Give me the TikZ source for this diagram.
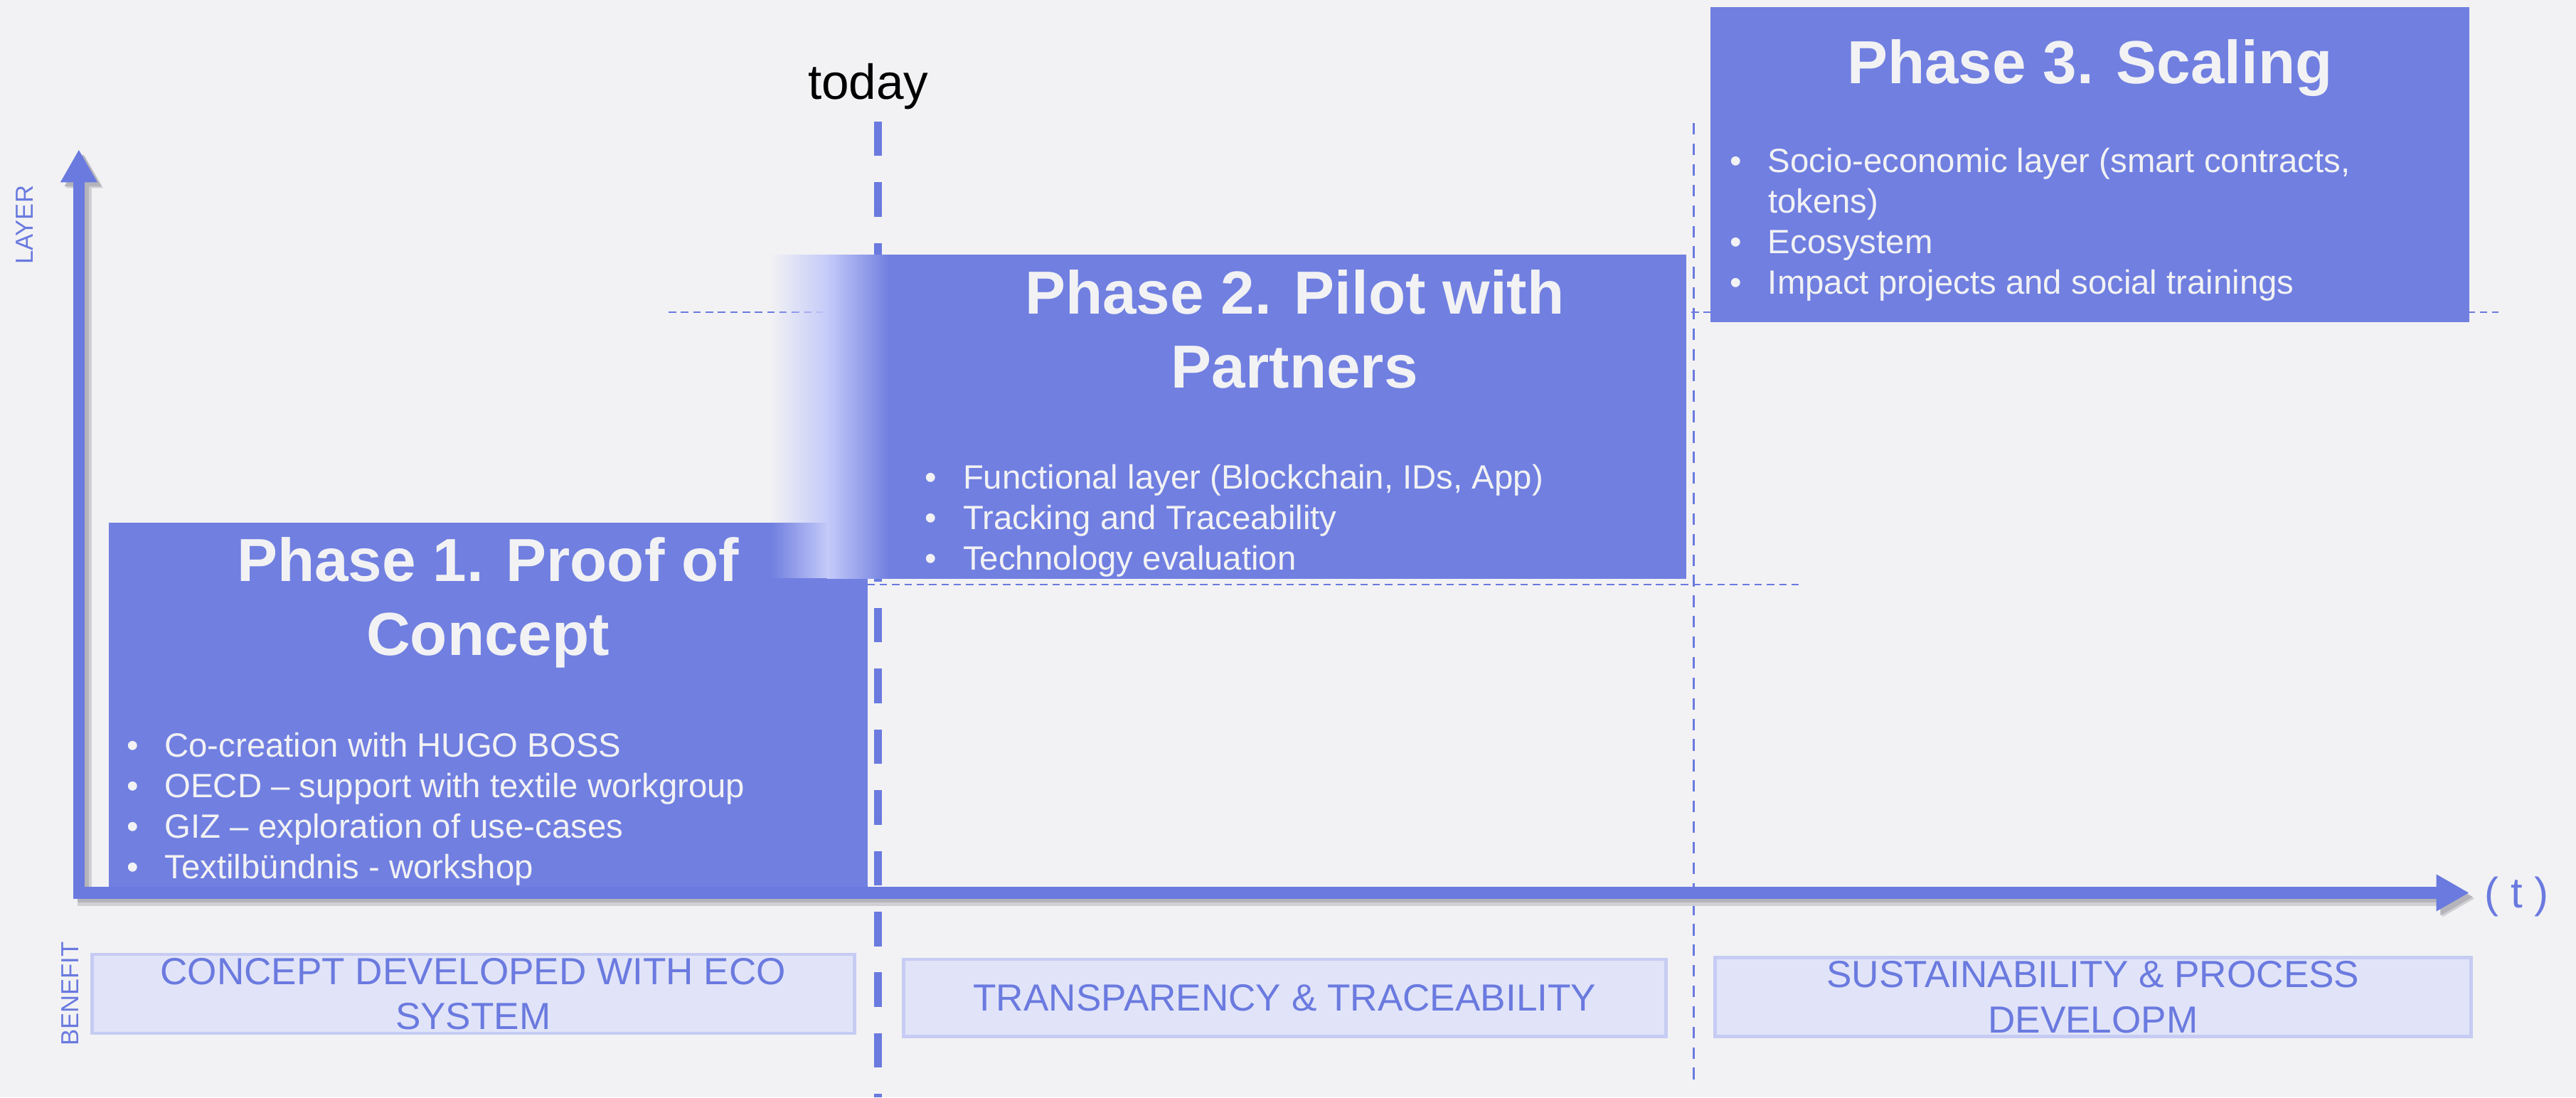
\documentclass[tikz,border=0pt]{standalone}
\usepackage{fontspec}
\setmainfont{Liberation Sans}
\usetikzlibrary{arrows.meta, positioning, fadings}
\definecolor{PageGrey}{HTML}{F2F2F4}
\definecolor{PhaseBlue}{HTML}{707FE0}
\definecolor{AxisBlue}{HTML}{6A7ADF}
\definecolor{LightLav}{HTML}{C5CBF9}
\definecolor{BenefitFill}{HTML}{E1E4F8}
\definecolor{BenefitLine}{HTML}{C6CCF3}
\definecolor{ShadowGrey}{HTML}{B4B4BA}
\newcommand{\phbullet}[1]{\makebox[23pt][l]{\textbullet}#1}

\tikzset{
  phasebox/.style={fill=PhaseBlue, inner sep=0pt, anchor=north west},
  phasetitle/.style={text=PageGrey, font=\fontsize{37}{45}\selectfont\bfseries, align=center, anchor=base, inner sep=0pt},
  phaselist/.style={text=PageGrey, font=\fontsize{20.5}{24.7}\selectfont, align=left, anchor=base west, inner sep=0pt},
  benefitbox/.style={fill=BenefitFill, draw=BenefitLine, line width=2pt, inner sep=0pt, text=AxisBlue,
    font=\fontsize{23}{27.5}\selectfont, align=center},
  guide/.style={AxisBlue, line width=1pt, dash pattern=on 4.5pt off 3pt},
  axislabel/.style={rotate=90, text=AxisBlue, font=\fontsize{15}{18}\selectfont},
  axisarrow/.style={line width=7pt, {Triangle[width=21pt,length=20pt]}-{Triangle[width=21pt,length=20pt]}},
}

\begin{document}
\begin{tikzpicture}[x=1pt, y=-1pt]
\useasboundingbox[fill=PageGrey] (0,0) rectangle (1568,668);

% hilfslinien
\draw[guide] (407,190) -- (1521,190);
\draw[guide] (528,356) -- (1097,356);
\draw[AxisBlue, line width=1.3pt, dash pattern=on 7pt off 5.5pt] (1031,75) -- (1031,659);

% heute
\node[font=\fontsize{30}{36}\selectfont, anchor=base] (today) at (528.5,60.5) {today};
\coordinate (todaytop) at (534.5,74);
\coordinate (todaybot) at (534.5,668);
\draw[AxisBlue, line width=5pt, dash pattern=on 21pt off 16pt] (todaytop) -- (todaybot);

% phasen
\node[phasebox, minimum width=462pt, minimum height=223pt] (p1) at (66,318) {};
\fill[LightLav, path fading=west] (469,155) rectangle (504,352);
\shade[left color=LightLav, right color=PhaseBlue] (503.5,155) rectangle (541.5,352);
\node[phasebox, minimum width=485pt, minimum height=197pt] (p2) at (541,155) {};
\node[phasebox, minimum width=462pt, minimum height=192pt] (p3) at (1041,4) {};

% (base = letzte Zeile)
\node[phasetitle] (p1title) at (297,399) {Phase 1. Proof of\\Concept};
\node[phasetitle] (p2title) at (788,236) {Phase 2. Pilot with\\Partners};
\node[phasetitle] (p3title) at (1272,51) {Phase 3. Scaling};

\node[phaselist] (p1list) at (77,535) {%
  \phbullet{Co-creation with HUGO BOSS}\\
  \phbullet{OECD – support with textile workgroup}\\
  \phbullet{GIZ – exploration of use-cases}\\
  \phbullet{Textilbündnis - workshop}};
\node[phaselist] (p2list) at (563,347) {%
  \phbullet{Functional layer (Blockchain, IDs, App)}\\
  \phbullet{Tracking and Traceability}\\
  \phbullet{Technology evaluation}};
\node[phaselist] (p3list) at (1053,179) {%
  \phbullet{Socio-economic layer (smart contracts,}\\
  \makebox[23pt]{}tokens)\\
  \phbullet{Ecosystem}\\
  \phbullet{Impact projects and social trainings}};

% achsen
\coordinate (origin) at (48,543.5);
\coordinate (ytip) at (48,91);
\coordinate (xtip) at (1503,543.5);
\draw[ShadowGrey!55!PageGrey, axisarrow, line width=9pt] ([shift={(3.5,3.5)}]ytip) -- ([shift={(3.5,3.5)}]origin) -- ([shift={(3.5,3.5)}]xtip);
\draw[ShadowGrey, axisarrow] ([shift={(2.5,2.5)}]ytip) -- ([shift={(2.5,2.5)}]origin) -- ([shift={(2.5,2.5)}]xtip);
\draw[AxisBlue, axisarrow] (ytip) -- (origin) -- (xtip);
\node[font=\fontsize{26}{30}\selectfont, text=AxisBlue, anchor=base] (tlabel) at (1532,552.5) {( t )};
\node[axislabel] (layer) at (15,137) {LAYER};
\node[axislabel] (benefit) at (42.5,605) {BENEFIT};

% nutzen
\node[benefitbox, minimum width=464pt, minimum height=48pt] (b1) at (288,605) {CONCEPT DEVELOPED WITH ECO\\SYSTEM};
\node[benefitbox, minimum width=464pt, minimum height=47pt] (b2) at (782,607.5) {TRANSPARENCY \& TRACEABILITY};
\node[benefitbox, minimum width=460pt, minimum height=48pt] (b3) at (1274,607) {SUSTAINABILITY \& PROCESS\\DEVELOPM};

\end{tikzpicture}
\end{document}
